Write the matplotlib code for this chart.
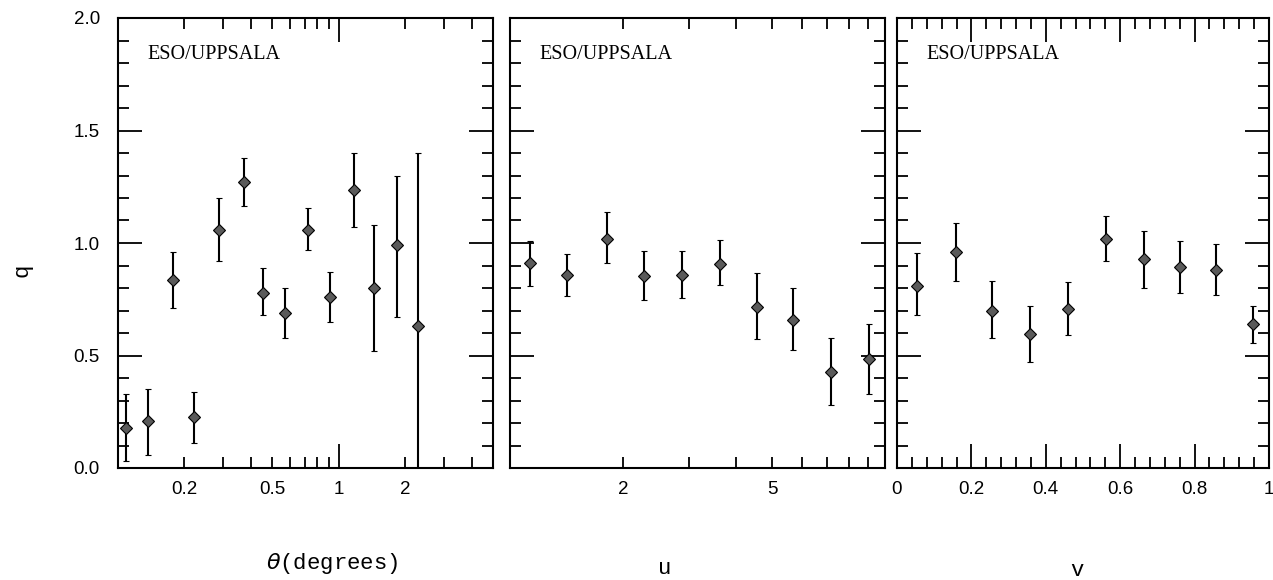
import matplotlib
matplotlib.use("Agg")
import matplotlib.pyplot as plt
import numpy as np
from matplotlib.ticker import FixedLocator, FuncFormatter, NullLocator, MultipleLocator, NullFormatter

# ---- data ----
theta = [0.109, 0.137, 0.177, 0.221, 0.288, 0.371, 0.453, 0.571, 0.728, 0.91, 1.17, 1.45, 1.84, 2.28]
q_theta = [0.18, 0.21, 0.835, 0.225, 1.06, 1.27, 0.78, 0.69, 1.06, 0.76, 1.235, 0.80, 0.99, 0.63]
lo_theta = [0.03, 0.06, 0.71, 0.11, 0.92, 1.165, 0.68, 0.58, 0.97, 0.65, 1.07, 0.52, 0.67, 0.0]
hi_theta = [0.33, 0.35, 0.96, 0.34, 1.20, 1.38, 0.89, 0.80, 1.155, 0.87, 1.40, 1.08, 1.30, 1.40]

u = [1.13, 1.42, 1.81, 2.28, 2.88, 3.62, 4.55, 5.70, 7.16, 9.06]
q_u = [0.91, 0.86, 1.02, 0.855, 0.86, 0.905, 0.715, 0.66, 0.425, 0.485]
lo_u = [0.81, 0.765, 0.91, 0.745, 0.755, 0.815, 0.575, 0.525, 0.28, 0.33]
hi_u = [1.01, 0.95, 1.14, 0.965, 0.965, 1.015, 0.865, 0.80, 0.58, 0.64]

v = [0.054, 0.159, 0.256, 0.358, 0.46, 0.561, 0.663, 0.76, 0.857, 0.957]
q_v = [0.81, 0.96, 0.70, 0.595, 0.705, 1.02, 0.93, 0.895, 0.88, 0.64]
lo_v = [0.68, 0.83, 0.58, 0.47, 0.59, 0.92, 0.80, 0.78, 0.77, 0.555]
hi_v = [0.955, 1.09, 0.83, 0.72, 0.825, 1.12, 1.055, 1.01, 0.995, 0.72]

panel_label = "ESO/UPPSALA"
xlabels = [r"$\theta$(degrees)", "u", "v"]
ylabel = "q"
yticks = [0.0, 0.5, 1.0, 1.5, 2.0]

# ---- figure ----
W, H = 1273, 580
fig = plt.figure(figsize=(W / 100, H / 100), dpi=100)
plt.rcParams['font.family'] = ['Liberation Sans', 'DejaVu Sans']

def rect(l, r, t, b):
    return [l / W, 1 - b / H, (r - l) / W, (b - t) / H]

ax1 = fig.add_axes(rect(118, 493, 18, 468))
ax2 = fig.add_axes(rect(510, 885, 18, 468))
ax3 = fig.add_axes(rect(897, 1269, 18, 468))

def draw(ax, x, q, lo, hi):
    q = np.array(q); lo = np.array(lo); hi = np.array(hi)
    ax.errorbar(x, q, yerr=[q - lo, hi - q], fmt='D', ms=6, mfc='#5a5a5a', mec='black',
                mew=0.8, ecolor='black', elinewidth=1.5, capsize=2.5, capthick=1.5, clip_on=True)

draw(ax1, theta, q_theta, lo_theta, hi_theta)
draw(ax2, u, q_u, lo_u, hi_u)
draw(ax3, v, q_v, lo_v, hi_v)

for ax in (ax1, ax2, ax3):
    ax.set_ylim(0, 2)
    ax.yaxis.set_major_locator(FixedLocator(yticks))
    ax.yaxis.set_minor_locator(MultipleLocator(0.1))
    for s in ax.spines.values():
        s.set_linewidth(1.5)
    ax.tick_params(which='both', direction='in', top=True, right=True, labelsize=13.5, width=1.3)
    ax.tick_params(which='major', length=17, pad=9)
    ax.tick_params(which='minor', length=8, pad=9)
    ax.text(0.078, 0.918, panel_label, transform=ax.transAxes, ha='left', va='center',
            fontsize=14.5, family=['Liberation Serif', 'DejaVu Serif'])

ax1.yaxis.set_major_formatter(FuncFormatter(lambda y, p: f"{y:.1f}"))
ax1.tick_params(axis='y', pad=13)
ax2.yaxis.set_major_formatter(NullFormatter())
ax3.yaxis.set_major_formatter(NullFormatter())

# panel 1: log theta
ax1.set_xscale('log')
ax1.set_xlim(0.1, 5)
ax1.xaxis.set_major_locator(FixedLocator([1]))
ax1.xaxis.set_minor_locator(FixedLocator([0.2, 0.3, 0.4, 0.5, 0.6, 0.7, 0.8, 0.9, 2, 3, 4]))
ax1.xaxis.set_major_formatter(FuncFormatter(lambda x, p: "1"))
ax1.xaxis.set_minor_formatter(FuncFormatter(
    lambda x, p: {0.2: "0.2", 0.5: "0.5", 2: "2"}.get(round(x, 3), "")))

# panel 2: log u
ax2.set_xscale('log')
ax2.set_xlim(1, 10)
ax2.xaxis.set_major_locator(NullLocator())
ax2.xaxis.set_minor_locator(FixedLocator([2, 3, 4, 5, 6, 7, 8, 9]))
ax2.xaxis.set_minor_formatter(FuncFormatter(
    lambda x, p: {2: "2", 5: "5"}.get(int(round(x)), "")))

# panel 3: linear v
ax3.set_xlim(0, 1)
ax3.xaxis.set_major_locator(MultipleLocator(0.2))
ax3.xaxis.set_minor_locator(MultipleLocator(0.04))
ax3.xaxis.set_major_formatter(FuncFormatter(
    lambda x, p: "0" if abs(x) < 1e-9 else ("1" if abs(x - 1) < 1e-9 else f"{x:.1f}")))

# axis labels
mono = ['Liberation Mono', 'DejaVu Sans Mono']
fig.text(332 / W, 1 - 563 / H, xlabels[0], ha='center', va='center', fontsize=16, family=mono)
fig.text(665 / W, 1 - 568 / H, xlabels[1], ha='center', va='center', fontsize=16, family=mono)
fig.text(1077 / W, 1 - 570 / H, xlabels[2], ha='center', va='center', fontsize=16, family=mono)
fig.text(22 / W, 1 - 270 / H, ylabel, ha='center', va='center', fontsize=16, family=mono, rotation=90)

fig.savefig("out.png", dpi=100)
